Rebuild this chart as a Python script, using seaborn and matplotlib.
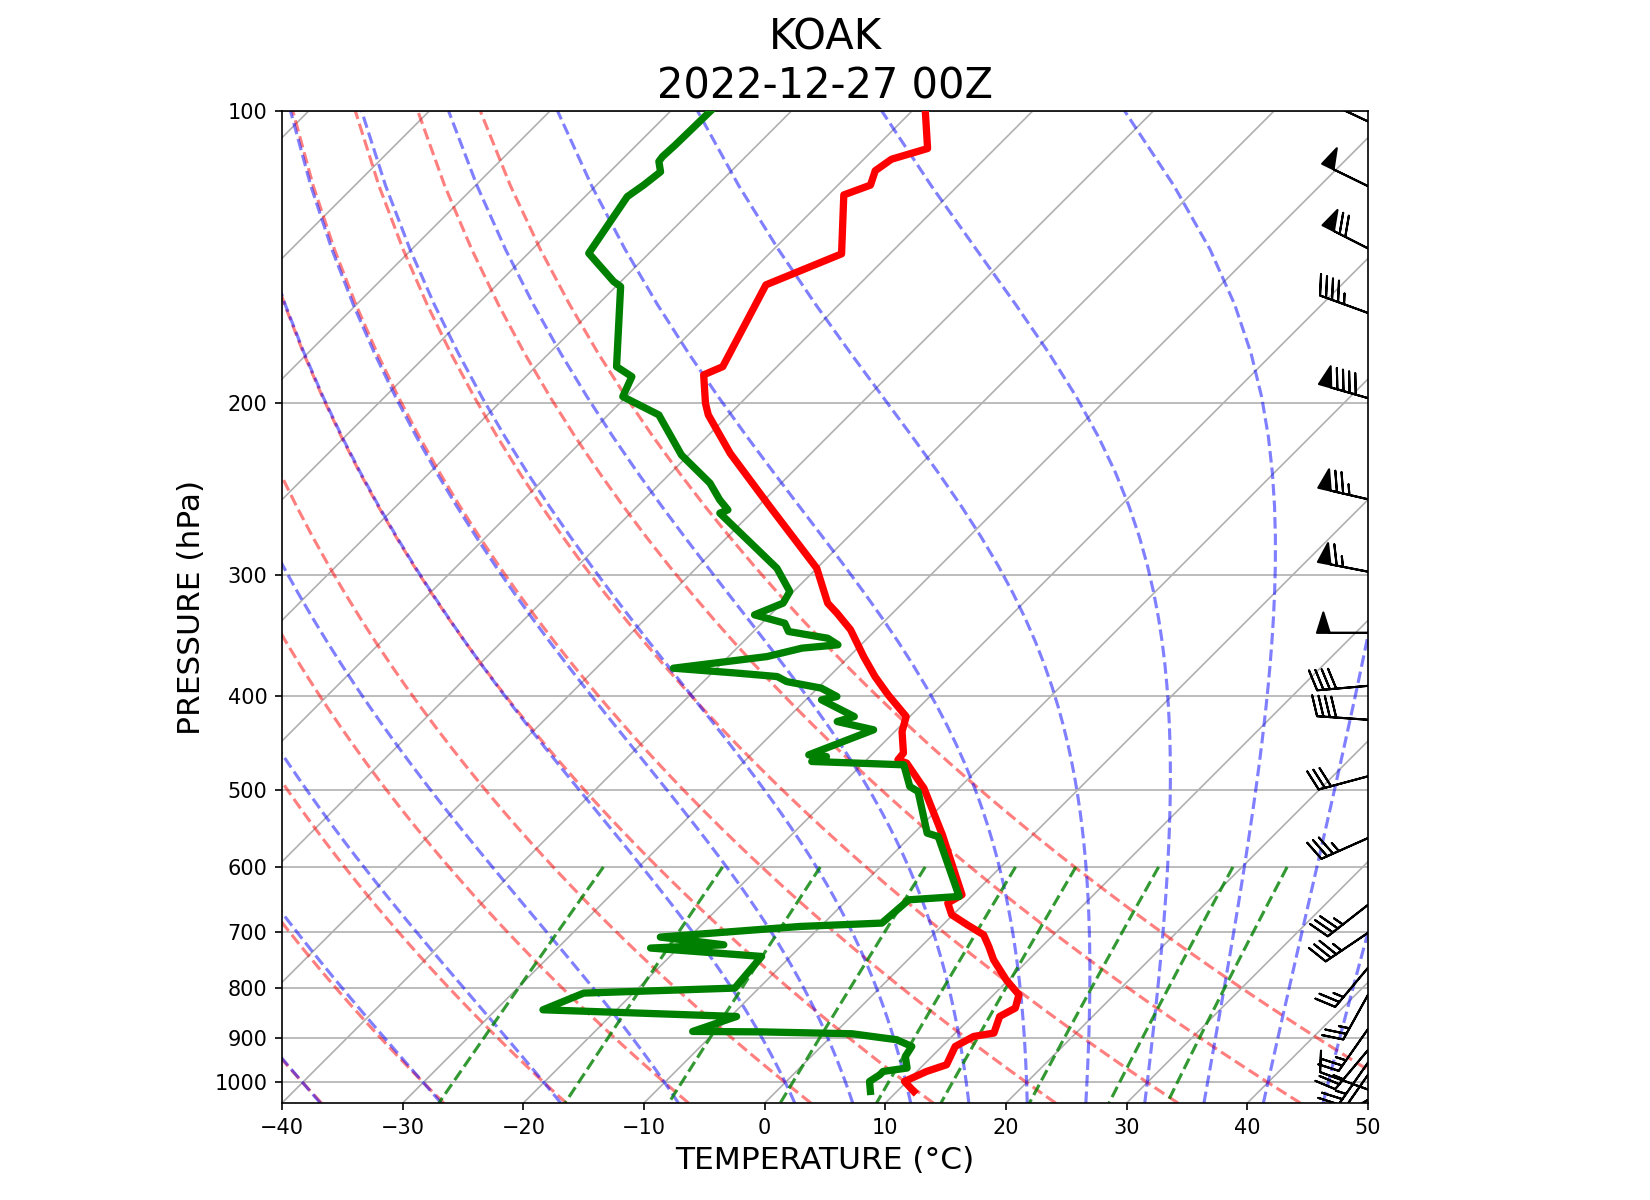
import numpy as np
import pandas as pd
import matplotlib
matplotlib.use("Agg")
import matplotlib.pyplot as plt
import matplotlib.transforms as mtransforms
from matplotlib.collections import LineCollection
from matplotlib.ticker import FixedLocator, ScalarFormatter, NullLocator
import seaborn as sns

# ─────────────────────────────────────────
# SOUNDING DATA  (KOAK 2022-12-27 00Z)
# ─────────────────────────────────────────
pres_t = [100.0, 109.3, 112.1, 115.2, 119.2, 122.0, 140.3, 151.0, 183.3, 186.9,
          199.9, 205.5, 225.1, 255.4, 295.6, 321.1, 328.8, 342.0, 364.4, 382.1,
          399.0, 420.1, 435.3, 458.1, 465.5, 469.1, 492.0, 497.8, 556.0, 641.0,
          653.6, 672.0, 688.1, 704.7, 724.5, 747.7, 784.0, 812.4, 838.3, 855.2,
          889.5, 896.7, 918.2, 958.9, 974.2, 997.6, 1021.5]
temp = [-68.9, -65.6, -67.7, -68.1, -67.3, -68.7, -64.0, -67.7, -64.5, -65.4,
        -62.9, -61.7, -56.7, -49.0, -40.0, -36.2, -34.6, -32.1, -28.8, -26.2,
        -23.6, -20.3, -19.4, -17.5, -17.4, -16.4, -13.6, -12.9, -7.5, -0.9,
        -1.4, -0.1, 2.0, 4.2, 5.6, 7.1, 9.8, 12.1, 12.9, 12.3,
        13.2, 11.8, 11.1, 11.9, 10.8, 9.8, 11.4]

pres_td = [100.0, 108.4, 111.4, 112.7, 115.5, 119.2, 122.5, 140.1, 149.8, 151.6,
           183.3, 187.7, 196.8, 205.5, 226.0, 241.6, 251.4, 257.4, 259.4, 295.6,
           312.4, 321.1, 330.1, 336.7, 343.4, 348.9, 354.4, 357.2, 364.4, 374.6,
           379.0, 382.1, 386.7, 392.7, 400.6, 403.8, 420.1, 425.1, 433.5, 460.0,
           461.8, 467.3, 471.0, 495.9, 501.8, 553.8, 558.3, 643.5, 648.6, 685.4,
           690.9, 708.5, 721.6, 727.2, 741.8, 799.6, 809.1, 841.8, 855.2, 886.1,
           887.0, 891.0, 903.7, 918.2, 940.3, 966.4, 974.2, 981.9, 997.6, 1021.5]
dewp = [-86.7, -86.8, -86.9, -86.8, -85.8, -86.1, -86.5, -85.0, -80.6, -79.6,
        -73.3, -71.2, -70.3, -65.8, -60.6, -55.9, -53.7, -52.2, -52.6, -43.3,
        -40.3, -39.9, -41.3, -38.1, -37.1, -33.3, -31.9, -34.6, -36.8, -43.6,
        -37.9, -34.3, -33.1, -29.7, -27.7, -28.7, -24.6, -25.6, -21.9, -25.2,
        -23.6, -24.4, -16.5, -14.2, -13.1, -8.9, -7.7, -1.0, -4.9, -5.2,
        -11.7, -22.4, -16.5, -22.3, -12.4, -12.0, -24.1, -26.1, -9.5, -11.9,
        -6.2, 1.5, 5.7, 7.5, 7.8, 8.9, 7.2, 7.2, 6.9, 7.8]

wind_pres = [102.5, 119.5, 138.5, 161.4, 197.5, 251.0, 298.0, 344.5, 390.6, 423.3,
             484.0, 560.3, 656.4, 701.4, 762.0, 812.4, 881.0, 926.0, 954.0, 982.0,
             1017.0, 1042.0]
wind_dir = [295, 296, 297, 290, 286, 283, 281, 270, 265, 274,
            255, 246, 232, 236, 220, 209, 215, 220, 215, 215,
            290, 240]
wind_spd = [60, 50, 70, 45, 90, 75, 65, 50, 40, 40,
            30, 35, 35, 35, 25, 25, 25, 25, 25, 20,
            10, 5]

# ─────────────────────────────────────────
# SKEW-T SETUP
# ─────────────────────────────────────────
P_BOT, P_TOP = 1050.0, 100.0
T_MIN, T_MAX = -40.0, 50.0
AX_RECT = [0.1709, 0.0808, 0.6582, 0.8267]
FIG_W, FIG_H = 11, 8

# 45 degree skew in screen space
SKEW = (T_MAX - T_MIN) * (AX_RECT[3] * FIG_H) / (AX_RECT[2] * FIG_W)

RD = 287.04749
CP = 1004.6662
LV = 2.50084e6
EPS = 0.6219569


def skew_x(t, p):
    t = np.asarray(t, float)
    p = np.asarray(p, float)
    return t + SKEW * np.log(P_BOT / p) / np.log(P_BOT / P_TOP)


def moist_dtdp(p, t):
    es = 6.112 * np.exp(17.67 * (t - 273.15) / (t - 29.65))
    rs = EPS * es / (p - es)
    num = RD * t + LV * rs
    den = CP + LV * LV * rs * EPS / (RD * t * t)
    return num / den / p


def moist_lapse(t0, pres, p0=1000.0, nsub=40):
    t0 = np.asarray(t0, float) + 273.15
    out = np.empty((t0.size, pres.size))
    for j, pt in enumerate(pres):
        t = t0.copy()
        p = p0
        h = (pt - p0) / nsub
        for _ in range(nsub):
            k1 = moist_dtdp(p, t)
            k2 = moist_dtdp(p + h / 2, t + h / 2 * k1)
            k3 = moist_dtdp(p + h / 2, t + h / 2 * k2)
            k4 = moist_dtdp(p + h, t + h * k3)
            t = t + h / 6 * (k1 + 2 * k2 + 2 * k3 + k4)
            p += h
        out[:, j] = t
    return out - 273.15


def add_lines(ax, temps, pres, **kw):
    segs = [np.column_stack((skew_x(t, pres), pres)) for t in temps]
    ax.add_collection(LineCollection(segs, **kw))


fig = plt.figure(figsize=(FIG_W, FIG_H), dpi=150)
ax = fig.add_axes(AX_RECT)
ax.set_yscale("log")
ax.set_xlim(T_MIN, T_MAX)
ax.set_ylim(P_BOT, P_TOP)

# temperature / dewpoint traces
sns.lineplot(x=skew_x(temp, pres_t), y=pres_t, sort=False, estimator=None,
             color="red", linewidth=3.5, ax=ax, zorder=4)
sns.lineplot(x=skew_x(dewp, pres_td), y=pres_td, sort=False, estimator=None,
             color="green", linewidth=3.5, ax=ax, zorder=4)

# skewed isotherms (grid)
iso = np.arange(-140, 51, 10)
add_lines(ax, [np.array([t, t]) for t in iso], np.array([P_BOT, P_TOP]),
          colors="#b0b0b0", linewidths=0.8, zorder=1)
ax.yaxis.grid(True, color="#b0b0b0", linewidth=0.8, zorder=1)

# dry adiabats
p_lev = np.linspace(P_BOT, P_TOP, 50)
dry_t0 = np.arange(-40, 51, 10)
dry = [(t0 + 273.15) * (p_lev / 1000.0) ** (RD / CP) - 273.15 for t0 in dry_t0]
add_lines(ax, dry, p_lev, colors="r", linestyles="dashed", alpha=0.5,
          linewidths=1.5, zorder=2)

# moist adiabats
moist_t0 = np.concatenate((np.arange(-40, 0, 10), np.arange(0, 51, 5)))
moist = moist_lapse(moist_t0, p_lev)
add_lines(ax, list(moist), p_lev, colors="b", linestyles="dashed", alpha=0.5,
          linewidths=1.5, zorder=2)

# mixing ratio lines
mix_w = [0.0004, 0.001, 0.002, 0.004, 0.007, 0.01, 0.016, 0.024, 0.032]
p_mix = np.linspace(600, P_BOT, 50)
mix = []
for w in mix_w:
    e = p_mix * w / (EPS + w)
    ln = np.log(e / 6.112)
    mix.append(243.5 * ln / (17.67 - ln))
add_lines(ax, mix, p_mix, colors="g", linestyles="dashed", alpha=0.8,
          linewidths=1.5, zorder=2)

# wind barbs along the right edge
wd = np.deg2rad(np.array(wind_dir, float))
ws = np.array(wind_spd, float)
u = -ws * np.sin(wd)
v = -ws * np.cos(wd)
trans = mtransforms.blended_transform_factory(ax.transAxes, ax.transData)
ax.barbs(np.ones(len(wind_pres)), wind_pres, u, v, transform=trans,
         length=7, zorder=5)

# axes cosmetics
ax.yaxis.set_major_locator(FixedLocator(np.arange(100, 1001, 100)))
ax.yaxis.set_major_formatter(ScalarFormatter())
ax.yaxis.set_minor_locator(NullLocator())
ax.set_xticks(np.arange(-40, 51, 10))
ax.set_xlim(T_MIN, T_MAX)
ax.set_ylim(P_BOT, P_TOP)
ax.tick_params(labelsize=10)

ax.set_title("KOAK\n2022-12-27 00Z", fontsize=20)
ax.set_xlabel("TEMPERATURE (°C)", fontsize=15)
ax.set_ylabel("PRESSURE (hPa)", fontsize=15)

fig.savefig("out.png", dpi=150)
